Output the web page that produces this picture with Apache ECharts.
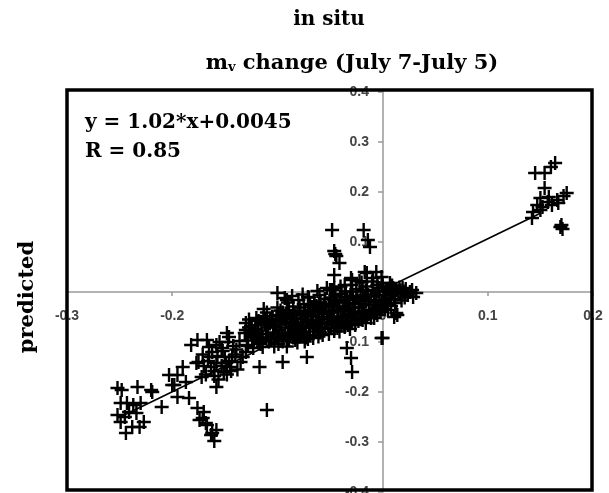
<!DOCTYPE html>
<html><head><meta charset="utf-8">
<script src="https://cdn.jsdelivr.net/npm/echarts@6/dist/echarts.min.js"></script>
<style>html,body{margin:0;padding:0;background:#fff}#c{width:609px;height:493px}</style>
</head><body><div id="c"></div>
<script>
// ---- data (x = in situ change, y = predicted change) ----
const titleLine1 = 'in situ';
const titleLine2 = ' change (July 7-July 5)';
const yAxisName = 'predicted';
const eqText = 'y = 1.02*x+0.0045';
const rText = 'R = 0.85';
const xRange = [-0.3, 0.2];
const yRange = [-0.4, 0.4];
const tickStep = 0.1;

const upperRight = [
  [0.145,0.238],[0.154,0.238],[0.164,0.258],[0.160,0.250],[0.154,0.208],[0.175,0.198],
  [0.150,0.188],[0.157,0.180],[0.166,0.184],[0.147,0.174],[0.152,0.170],[0.161,0.174],
  [0.167,0.178],[0.143,0.160],[0.150,0.164],[0.142,0.148],[0.169,0.130],[0.171,0.126],
  [0.170,0.134],[0.158,0.190],[0.172,0.192]
];
const spikeAbove = [
  [-0.048,0.124],[-0.018,0.124],[-0.014,0.104],[-0.012,0.090],[-0.046,0.082],[-0.045,0.076],
  [-0.044,0.072],[-0.041,0.058],[-0.046,0.034],[-0.030,0.028],[-0.017,0.040],[-0.006,0.040],
  [-0.048,0.004],[0.000,0.018],[0.019,0.008],[0.029,-0.010],[0.013,-0.042],[0.032,-0.002],
  [0.011,-0.050],[0.000,-0.092],[-0.001,0.030],[-0.015,0.038],[-0.029,0.024],[-0.046,0.008],
  [0.028,0.004],[0.021,-0.002],[0.014,-0.046],[-0.006,-0.042],[-0.003,-0.022]
];
const blobEdges = [
  [-0.117,-0.150],[-0.095,-0.140],[-0.072,-0.130],[-0.030,-0.132],[-0.029,-0.160],[-0.034,-0.112],
  [-0.001,-0.092],[-0.146,-0.090],[-0.125,-0.080],[-0.091,-0.016],[-0.071,-0.010],[-0.100,-0.002],
  [-0.130,-0.076],[-0.114,-0.110]
];
const centralBlob = [
  [-0.130,-0.062],[-0.131,-0.082],[-0.128,-0.097],[-0.127,-0.071],[-0.129,-0.106],
  [-0.124,-0.091],[-0.126,-0.076],[-0.123,-0.112],
  [-0.120,-0.052],[-0.119,-0.066],[-0.121,-0.086],[-0.118,-0.101],[-0.121,-0.074],
  [-0.115,-0.061],[-0.114,-0.092],[-0.116,-0.104],
  [-0.110,-0.041],[-0.111,-0.056],[-0.109,-0.071],[-0.110,-0.084],[-0.108,-0.099],[-0.112,-0.064],
  [-0.105,-0.049],[-0.104,-0.081],[-0.106,-0.094],[-0.103,-0.109],
  [-0.100,-0.031],[-0.099,-0.046],[-0.101,-0.061],[-0.098,-0.076],[-0.100,-0.089],[-0.099,-0.104],[-0.102,-0.066],
  [-0.095,-0.041],[-0.094,-0.054],[-0.096,-0.071],[-0.093,-0.086],[-0.095,-0.099],
  [-0.090,-0.021],[-0.089,-0.036],[-0.091,-0.051],[-0.088,-0.064],[-0.090,-0.081],[-0.089,-0.094],[-0.091,-0.109],
  [-0.085,-0.029],[-0.084,-0.046],[-0.086,-0.059],[-0.083,-0.076],[-0.085,-0.091],
  [-0.080,-0.016],[-0.079,-0.031],[-0.081,-0.044],[-0.078,-0.061],[-0.080,-0.074],[-0.079,-0.089],[-0.081,-0.101],
  [-0.075,-0.024],[-0.074,-0.041],[-0.076,-0.054],[-0.073,-0.071],[-0.075,-0.084],[-0.074,-0.099],
  [-0.070,-0.011],[-0.069,-0.026],[-0.071,-0.039],[-0.068,-0.056],[-0.070,-0.069],[-0.069,-0.086],[-0.071,-0.094],
  [-0.065,-0.019],[-0.064,-0.036],[-0.066,-0.049],[-0.063,-0.066],[-0.065,-0.079],
  [-0.060,-0.006],[-0.059,-0.021],[-0.061,-0.034],[-0.058,-0.051],[-0.060,-0.064],[-0.059,-0.081],[-0.061,-0.089],
  [-0.055,-0.014],[-0.054,-0.031],[-0.056,-0.044],[-0.053,-0.061],[-0.055,-0.074],
  [-0.050,0.004],[-0.049,-0.011],[-0.051,-0.024],[-0.048,-0.041],[-0.050,-0.054],[-0.049,-0.071],[-0.051,-0.084],
  [-0.045,-0.006],[-0.044,-0.019],[-0.046,-0.036],[-0.043,-0.049],[-0.045,-0.066],
  [-0.040,0.011],[-0.039,-0.004],[-0.041,-0.021],[-0.038,-0.034],[-0.040,-0.051],[-0.039,-0.064],[-0.041,-0.079],
  [-0.035,0.001],[-0.034,-0.016],[-0.036,-0.029],[-0.033,-0.046],[-0.035,-0.059],
  [-0.030,0.014],[-0.029,0.001],[-0.031,-0.014],[-0.028,-0.031],[-0.030,-0.044],[-0.029,-0.061],[-0.031,-0.074],
  [-0.025,0.006],[-0.024,-0.011],[-0.026,-0.024],[-0.023,-0.041],[-0.025,-0.054],
  [-0.020,0.019],[-0.019,0.004],[-0.021,-0.011],[-0.018,-0.024],[-0.020,-0.039],[-0.019,-0.056],
  [-0.015,0.011],[-0.014,-0.006],[-0.016,-0.019],[-0.013,-0.036],[-0.015,-0.049],
  [-0.010,0.021],[-0.009,0.004],[-0.011,-0.009],[-0.008,-0.026],[-0.010,-0.039],
  [-0.005,0.014],[-0.004,0.001],[-0.006,-0.016],[-0.003,-0.029],[-0.005,-0.046],
  [0.000,0.011],[0.001,-0.006],[-0.001,-0.019],[0.002,-0.034],
  [0.005,0.006],[0.006,-0.011],[0.004,-0.024],
  [0.010,0.001],[0.011,-0.014],[0.009,0.013],
  [0.015,-0.004],[0.016,0.009],
  [0.020,0.001],[0.021,-0.011]
];
const centralBlobFill = [
  [-0.127,-0.055],[-0.122,-0.081],[-0.117,-0.095],[-0.113,-0.048],[-0.107,-0.063],[-0.103,-0.092],
  [-0.097,-0.037],[-0.092,-0.060],[-0.087,-0.071],[-0.082,-0.052],[-0.077,-0.080],[-0.072,-0.048],
  [-0.067,-0.030],[-0.062,-0.073],[-0.057,-0.040],[-0.052,-0.063],[-0.047,-0.027],[-0.042,-0.058],
  [-0.037,-0.039],[-0.032,-0.022],[-0.027,-0.052],[-0.022,-0.031],[-0.017,-0.012],[-0.012,-0.043],
  [-0.007,-0.021],[-0.002,-0.040],[0.003,-0.016],[0.008,-0.028],[0.013,0.004],[0.018,-0.017],
  [-0.093,-0.012],[-0.083,-0.096],[-0.066,-0.092],[-0.057,-0.086],[-0.046,-0.078],[-0.036,-0.070],
  [-0.026,-0.066],[-0.016,-0.062],[-0.008,-0.052],[-0.062,0.002],[-0.053,0.008],[-0.036,0.014],
  [-0.022,0.022],[-0.009,0.028],[0.007,0.018],[-0.076,-0.005],[-0.086,-0.008],[-0.113,-0.034]
];
const centralBlobFill2 = [
  [-0.125,-0.068],[-0.118,-0.058],[-0.115,-0.077],[-0.111,-0.091],[-0.107,-0.054],[-0.104,-0.070],
  [-0.098,-0.056],[-0.096,-0.085],[-0.092,-0.043],[-0.088,-0.088],[-0.087,-0.052],[-0.084,-0.067],
  [-0.081,-0.083],[-0.078,-0.038],[-0.076,-0.066],[-0.073,-0.091],[-0.071,-0.060],[-0.068,-0.045],
  [-0.066,-0.072],[-0.063,-0.028],[-0.061,-0.057],[-0.058,-0.070],[-0.056,-0.025],[-0.053,-0.050],
  [-0.051,-0.038],[-0.048,-0.061],[-0.046,-0.016],[-0.043,-0.072],[-0.042,-0.030],[-0.038,-0.056],
  [-0.036,-0.010],[-0.033,-0.066],[-0.032,-0.038],[-0.028,-0.008],[-0.027,-0.046],[-0.023,-0.058],
  [-0.022,-0.018],[-0.018,-0.046],[-0.016,0.002],[-0.013,-0.026],[-0.011,-0.052],[-0.008,-0.005],
  [-0.006,-0.036],[-0.003,0.008],[0.000,-0.026],[0.003,0.002],[0.005,-0.036],[0.008,-0.006],
  [0.012,-0.022],[0.017,0.003],[0.022,0.006],[0.024,-0.006],[0.026,0.000],[0.010,0.008]
];
const lowerMid = [
  [-0.176,-0.096],[-0.167,-0.096],[-0.148,-0.082],[-0.182,-0.106],[-0.125,-0.082],[-0.119,-0.096],
  [-0.158,-0.142],[-0.150,-0.130],[-0.165,-0.130],[-0.145,-0.150],[-0.160,-0.158],[-0.170,-0.148],
  [-0.152,-0.118],[-0.140,-0.125],[-0.162,-0.120],[-0.135,-0.140],[-0.148,-0.165],[-0.156,-0.175],
  [-0.168,-0.165],[-0.142,-0.108],[-0.130,-0.120],[-0.175,-0.140],[-0.155,-0.100],[-0.138,-0.155],
  [-0.177,-0.142],[-0.195,-0.166],[-0.187,-0.180],[-0.172,-0.170],[-0.158,-0.190],[-0.198,-0.186],
  [-0.153,-0.148],[-0.146,-0.138],[-0.163,-0.150],[-0.151,-0.160],
  [-0.166,-0.138],[-0.157,-0.128],[-0.149,-0.142],[-0.143,-0.130],[-0.160,-0.168],[-0.153,-0.112],
  [-0.139,-0.115],[-0.147,-0.100],[-0.133,-0.130],[-0.171,-0.125],[-0.165,-0.110],[-0.158,-0.106],
  [-0.144,-0.158],[-0.136,-0.098],[-0.128,-0.108]
];
const tail = [
  [-0.184,-0.212],[-0.176,-0.232],[-0.171,-0.252],[-0.167,-0.266],[-0.158,-0.276],[-0.163,-0.286],
  [-0.160,-0.298],[-0.170,-0.240],[-0.174,-0.256],[-0.168,-0.262],[-0.162,-0.282]
];
const lowerLeft = [
  [-0.252,-0.192],[-0.233,-0.190],[-0.220,-0.196],[-0.210,-0.230],[-0.249,-0.222],[-0.243,-0.222],
  [-0.237,-0.226],[-0.230,-0.222],[-0.252,-0.246],[-0.245,-0.250],[-0.241,-0.240],[-0.234,-0.242],
  [-0.227,-0.260],[-0.249,-0.260],[-0.244,-0.282],[-0.238,-0.270],[-0.231,-0.270],[-0.200,-0.186],
  [-0.203,-0.166],[-0.195,-0.210],[-0.190,-0.150],[-0.219,-0.200],[-0.248,-0.196]
];
const outliers = [[-0.110,-0.236]];
const fitLine = [[-0.245,-0.2454],[0.150,0.1575]];

const points = [].concat(upperRight, spikeAbove, blobEdges, centralBlob, centralBlobFill, centralBlobFill2,
  lowerMid, tail, lowerLeft, outliers);

const chart = echarts.init(document.getElementById('c'), null, {renderer:'canvas'});
const serif = '"DejaVu Serif", "Liberation Serif", serif';
const axisLabelStyle = {color:'#444', fontFamily:'"Liberation Sans", Arial, sans-serif', fontSize:14, fontWeight:'bold'};
const G = {left:67, right:16, top:92, bottom:1};
chart.setOption({
  animation:false,
  backgroundColor:'#fff',
  grid:{left:G.left, right:G.right, top:G.top, bottom:G.bottom, containLabel:false, outerBoundsMode:'none'},
  xAxis:{type:'value', min:xRange[0], max:xRange[1], interval:tickStep, position:'bottom', offset:-200,
    axisLine:{onZero:false, lineStyle:{color:'#999', width:1.5}},
    axisTick:{show:true, length:4, lineStyle:{color:'#999', width:1.5}},
    axisLabel:Object.assign({margin:17, showMinLabel:true, showMaxLabel:true}, axisLabelStyle),
    splitLine:{show:false}},
  yAxis:{type:'value', min:yRange[0], max:yRange[1], interval:tickStep, position:'left', offset:-316,
    axisLine:{onZero:false, lineStyle:{color:'#999', width:1.5}},
    axisTick:{show:true, length:5, lineStyle:{color:'#999', width:1.5}},
    axisLabel:Object.assign({margin:14, showMinLabel:true, showMaxLabel:true}, axisLabelStyle),
    splitLine:{show:false}},
  series:[
    {type:'scatter', data:points, symbol:'path://M5.8,0H8.2V5.8H14V8.2H8.2V14H5.8V8.2H0V5.8H5.8Z', symbolSize:14,
     itemStyle:{color:'#000', opacity:1}, z:3},
    {type:'line', data:fitLine, symbol:'none', lineStyle:{color:'#000', width:1.6}, z:4}
  ],
  graphic:[
    {type:'rect', shape:{x:67, y:90, width:525, height:400}, style:{fill:'none', stroke:'#000', lineWidth:3.5}, z:100},
    {type:'text', x:329, y:20, style:{text:titleLine1, font:'bold 20px '+serif, fill:'#000', align:'center', verticalAlign:'middle'}, z:100},
    {type:'text', x:352, y:62, style:{text:'{a|m}{b|v}{a|'+titleLine2+'}', align:'center', verticalAlign:'middle',
      rich:{a:{font:'bold 21px '+serif, fill:'#000', lineHeight:24, verticalAlign:'bottom'},
            b:{font:'bold 13px '+serif, fill:'#000', lineHeight:13, verticalAlign:'bottom'}}}, z:100},
    {type:'text', x:85, y:123, style:{text:eqText, font:'bold 20px '+serif, fill:'#000', align:'left', verticalAlign:'middle'}, z:100},
    {type:'text', x:85, y:152, style:{text:rText, font:'bold 20px '+serif, fill:'#000', align:'left', verticalAlign:'middle'}, z:100},
    {type:'text', x:28, y:297, rotation:Math.PI/2, style:{text:yAxisName, font:'bold 21px '+serif, fill:'#000', align:'center', verticalAlign:'middle'}, z:100}
  ]
});
</script></body></html>
